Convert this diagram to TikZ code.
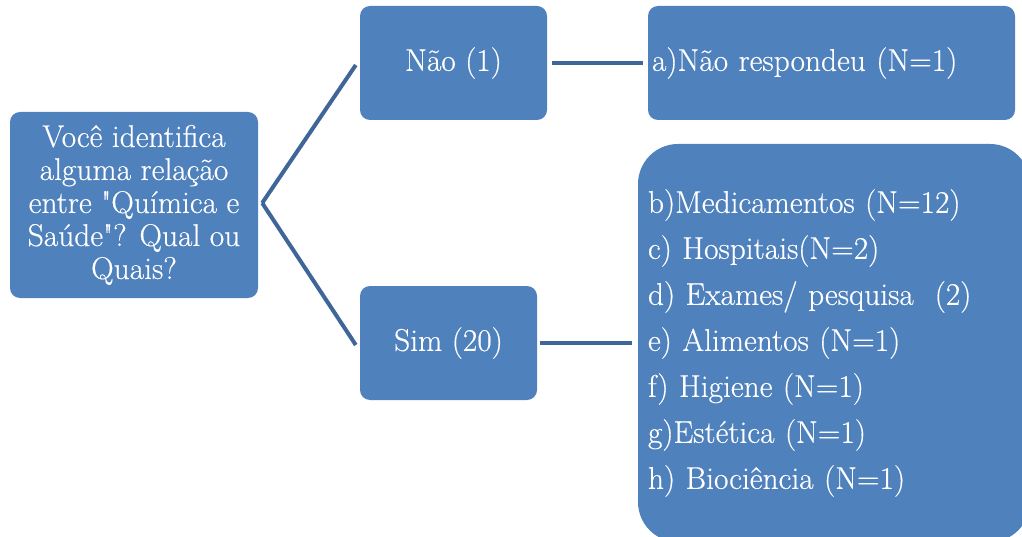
\documentclass[tikz,border=0pt]{standalone}
\usepackage{fontspec}
\newfontfamily\tnr{Latin Modern Roman}[FakeBold=0.4]
\usetikzlibrary{calc}
\definecolor{boxblue}{HTML}{4F81BD}
\definecolor{linkblue}{HTML}{3F6599}
\begin{document}
\begin{tikzpicture}[x=1pt,y=-1pt,
  box/.style={draw=none, fill=boxblue, rounded corners=10pt, text=white,
    font=\tnr\fontsize{31.4}{33}\selectfont, inner sep=0pt},
  link/.style={draw=linkblue, line width=4pt}]
\useasboundingbox (0,0) rectangle (1022,537);
\clip (0,0) rectangle (1022,537);
\node[box, minimum width=248pt, minimum height=186pt, align=center] (q) at (134,205)
  {Você identifica\\alguma relação\\entre "Química e\\Saúde"? Qual ou\\Quais?};
\node[box, minimum width=187pt, minimum height=114pt] (no) at (453.5,63) {Não (1)};
\node[box, minimum width=177pt, minimum height=114pt] (yes) at (448.5,343) {Sim (20)};
\node[box, minimum width=367pt, minimum height=114pt, text width=359pt, inner xsep=4pt, align=left] (a) at (831.5,63) {a)Não respondeu (N=1)};
\node[box, rounded corners=40pt, minimum width=392pt, minimum height=398pt, text width=372pt, inner xsep=10pt, align=left,
  font=\tnr\fontsize{31.4}{46}\selectfont] (list) at (834,343)
  {b)Medicamentos (N=12)\\c) Hospitais(N=2)\\d) Exames/ pesquisa~~(2)\\e) Alimentos (N=1)\\f) Higiene (N=1)\\g)Estética (N=1)\\h) Biociência (N=1)};
\draw[link] (q.east) ++(4,-2) -- ($(no.west)+(-4,2)$);
\draw[link] (q.east) ++(4,-2) -- ($(yes.west)+(-4,2)$);
\draw[link] ($(no.east)+(5,0)$) -- ($(a.west)+(-5,0)$);
\draw[link] ($(yes.east)+(3,0)$) -- ($(list.west)+(-6,0)$);
\end{tikzpicture}
\end{document}
